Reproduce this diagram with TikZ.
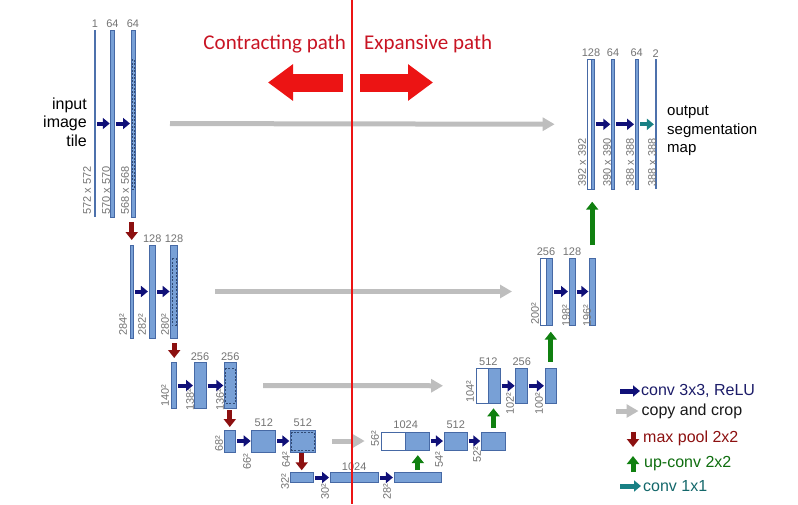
\documentclass[tikz,border=0pt]{standalone}
\usepackage{fontspec}
\setmainfont{Liberation Sans}
\newfontfamily\calibri{Carlito}
\usetikzlibrary{arrows.meta,calc}

\definecolor{fmapfill}{RGB}{120,160,214}
\definecolor{fmapline}{RGB}{70,105,165}
\definecolor{convblue}{RGB}{16,16,120}
\definecolor{copygray}{RGB}{190,190,190}
\definecolor{poolred}{RGB}{140,16,16}
\definecolor{upgreen}{RGB}{16,128,16}
\definecolor{convteal}{RGB}{24,128,132}
\definecolor{labgray}{RGB}{115,115,115}
\definecolor{splitred}{RGB}{236,20,20}
\definecolor{pathred}{RGB}{200,20,35}
\definecolor{convtxt}{RGB}{28,28,105}

\begin{document}
\begin{tikzpicture}[x=1pt, y=-1pt,
    fmap/.style={draw=fmapline, fill=fmapfill, line width=0.7pt, inner sep=0pt, outer sep=0pt},
    cmap/.style={fmap, fill=white},
    thinmap/.style={fill=fmapline!85!fmapfill, inner sep=0pt, outer sep=0pt, minimum width=1.6pt},
    cropbox/.style={draw=fmapline!70!black, line width=0.6pt, dash pattern=on 2pt off 1.5pt},
    chan/.style={font=\fontsize{11}{13}\selectfont, text=labgray, inner sep=0pt},
    dimlab/.style={font=\fontsize{11}{13}\selectfont, text=labgray, inner sep=0pt, rotate=90, anchor=west},
    conv/.style={draw=convblue, line width=4pt, -{Triangle[length=7pt,width=11pt]}, shorten <=1.5pt, shorten >=1pt},
    onebyone/.style={conv, draw=convteal},
    copyarr/.style={draw=copygray, line width=5pt, -{Triangle[length=12pt,width=13pt]}},
    poolarr/.style={draw=poolred, line width=5pt, -{Triangle[length=8pt,width=12pt]}, shorten <=2pt, shorten >=3pt},
    uparr/.style={draw=upgreen, line width=5pt, -{Triangle[length=8pt,width=12pt]}},
    bigarrow/.style={draw=splitred, line width=18pt, -{Triangle[length=25pt,width=35pt]}},
    sidetxt/.style={font=\fontsize{16}{18.5}\selectfont, inner sep=0pt},
    lgtext/.style={font=\fontsize{16}{18}\selectfont, inner sep=1pt, anchor=west},
    pathtxt/.style={font=\calibri\fontsize{21}{24}\selectfont, text=pathred, inner sep=0pt}
]
    \useasboundingbox (0,0) rectangle (798,504);

    % contracting path
    \node[thinmap, minimum height=187pt] (l1a) at (95,123.5) {};
    \node[fmap, minimum width=3.5pt, minimum height=187pt] (l1b) at (112.5,123.5) {};
    \node[fmap, minimum width=4pt, minimum height=187pt] (l1c) at (133,123.5) {};

    \node[fmap, minimum width=3.3pt, minimum height=93pt] (l2a) at (131.7,291.5) {};
    \node[fmap, minimum width=6.7pt, minimum height=93pt] (l2b) at (152.3,291.5) {};
    \node[fmap, minimum width=6.7pt, minimum height=93pt] (l2c) at (174,291.5) {};

    \node[fmap, minimum width=5pt, minimum height=45.6pt] (l3a) at (174.2,385.5) {};
    \node[fmap, minimum width=12pt, minimum height=45.6pt] (l3b) at (200,385.5) {};
    \node[fmap, minimum width=11.7pt, minimum height=45.6pt] (l3c) at (230.2,385.5) {};

    \node[fmap, minimum width=11.7pt, minimum height=22pt] (l4a) at (229.8,441) {};
    \node[fmap, minimum width=24pt, minimum height=22pt] (l4b) at (263.7,441) {};
    \node[fmap, minimum width=24.7pt, minimum height=22pt] (l4c) at (302.7,441) {};

    \node[fmap, minimum width=23.3pt, minimum height=10.4pt] (l5a) at (301.7,477.5) {};
    \node[fmap, minimum width=48.3pt, minimum height=10.4pt] (l5b) at (354.2,477.5) {};
    \node[fmap, minimum width=47.7pt, minimum height=10.4pt] (l5c) at (417.8,477.5) {};

    % expansive path
    \node[cmap, minimum width=24pt, minimum height=18.3pt] (u4w) at (393.7,441) {};
    \node[fmap, minimum width=23.6pt, minimum height=18.3pt] (u4a) at (417.5,441) {};
    \node[fmap, minimum width=23.7pt, minimum height=18.3pt] (u4b) at (455.8,441) {};
    \node[fmap, minimum width=24.4pt, minimum height=18.3pt] (u4c) at (493.5,441) {};

    \node[cmap, minimum width=12.3pt, minimum height=35pt] (u3w) at (482.2,385.8) {};
    \node[fmap, minimum width=11.7pt, minimum height=35pt] (u3a) at (494.2,385.8) {};
    \node[fmap, minimum width=12pt, minimum height=35pt] (u3b) at (521.7,385.8) {};
    \node[fmap, minimum width=11.7pt, minimum height=35pt] (u3c) at (550.8,385.8) {};

    \node[cmap, minimum width=6pt, minimum height=67pt] (u2w) at (543,291.5) {};
    \node[fmap, minimum width=6.7pt, minimum height=67pt] (u2a) at (549.35,291.5) {};
    \node[fmap, minimum width=6pt, minimum height=67pt] (u2b) at (572,291.5) {};
    \node[fmap, minimum width=5.7pt, minimum height=67pt] (u2c) at (592.2,291.5) {};

    \node[cmap, minimum width=3.3pt, minimum height=130pt] (u1w) at (589.3,124.3) {};
    \node[fmap, minimum width=3.4pt, minimum height=130pt] (u1a) at (592.65,124.3) {};
    \node[fmap, minimum width=3.4pt, minimum height=130pt] (u1b) at (613,124.3) {};
    \node[fmap, minimum width=3.3pt, minimum height=130pt] (u1c) at (636.7,124.3) {};
    \node[thinmap, minimum height=130pt] (u1d) at (655.7,124.3) {};

    % cropped parts
    \draw[cropbox] ($(l1c.west |- u1w.north)+(1.2,0)$) rectangle ($(l1c.east |- u1w.south)+(-1.2,0)$);
    \draw[cropbox] ($(l2c.west |- u2w.north)+(1.2,0)$) rectangle ($(l2c.east |- u2w.south)+(-1.2,0)$);
    \draw[cropbox] ($(l3c.west |- u3w.north)+(1.2,0)$) rectangle ($(l3c.east |- u3w.south)+(-1.2,0)$);
    \draw[cropbox] ($(l4c.west |- u4w.north)+(1.2,0)$) rectangle ($(l4c.east |- u4w.south)+(-1.2,0)$);

    % channels
    \node[chan, above=2pt] at (l1a.north) {1};
    \node[chan, above=2pt] at (l1b.north) {64};
    \node[chan, above=2pt] at (l1c.north) {64};
    \node[chan, above=2pt] at (l2b.north) {128};
    \node[chan, above=2pt] at (l2c.north) {128};
    \node[chan, above=2pt] at (l3b.north) {256};
    \node[chan, above=2pt] at (l3c.north) {256};
    \node[chan, above=3pt] at (l4b.north) {512};
    \node[chan, above=3pt] at (l4c.north) {512};
    \node[chan, above=2pt] at (l5b.north) {1024};
    \node[chan, above=3pt] at (u4w.north east) {1024};
    \node[chan, above=3pt] at (u4b.north) {512};
    \node[chan, above=2pt] at (u3w.north east) {512};
    \node[chan, above=2pt] at (u3b.north) {256};
    \node[chan, above=2pt] at (u2w.north east) {256};
    \node[chan, above=2pt] at (u2b.north) {128};
    \node[chan, above=2pt] at (u1w.north east) {128};
    \node[chan, above=2pt] at (u1b.north) {64};
    \node[chan, above=2pt] at (u1c.north) {64};
    \node[chan, above=2pt] at (u1d.north) {2};

    % sizes
    \node[dimlab] at (87,215) {572 x 572};
    \node[dimlab] at (106,215) {570 x 570};
    \node[dimlab] at (125,215) {568 x 568};
    \node[dimlab] at (123,336) {284²};
    \node[dimlab] at (142,336) {282²};
    \node[dimlab] at (165,336) {280²};
    \node[dimlab] at (165,407) {140²};
    \node[dimlab] at (190,411) {138²};
    \node[dimlab] at (220,411) {136²};
    \node[dimlab] at (219,452) {68²};
    \node[dimlab] at (247,470) {66²};
    \node[dimlab] at (286,468) {64²};
    \node[dimlab] at (285,490) {32²};
    \node[dimlab] at (325,500) {30²};
    \node[dimlab] at (387,500) {28²};
    \node[dimlab] at (375,447) {56²};
    \node[dimlab] at (439,468) {54²};
    \node[dimlab] at (477,463) {52²};
    \node[dimlab] at (470,403) {104²};
    \node[dimlab] at (510,415) {102²};
    \node[dimlab] at (539,415) {100²};
    \node[dimlab] at (535,325) {200²};
    \node[dimlab] at (566,327) {198²};
    \node[dimlab] at (587,327) {196²};
    \node[dimlab] at (582,187) {392 x 392};
    \node[dimlab] at (607,187) {390 x 390};
    \node[dimlab] at (630,187) {388 x 388};
    \node[dimlab] at (652,187) {388 x 388};

    % conv 3x3
    \draw[conv] (l1a.east) -- (l1b.west);
    \draw[conv] (l1b.east) -- (l1c.west);
    \draw[conv] (l2a.east) -- (l2b.west);
    \draw[conv] (l2b.east) -- (l2c.west);
    \draw[conv] (l3a.east) -- (l3b.west);
    \draw[conv] (l3b.east) -- (l3c.west);
    \draw[conv] (l4a.east) -- (l4b.west);
    \draw[conv] (l4b.east) -- (l4c.west);
    \draw[conv] (l5a.east) -- (l5b.west);
    \draw[conv] (l5b.east) -- (l5c.west);
    \draw[conv] (u4a.east) -- (u4b.west);
    \draw[conv] (u4b.east) -- (u4c.west);
    \draw[conv] (u3a.east) -- (u3b.west);
    \draw[conv] (u3b.east) -- (u3c.west);
    \draw[conv] (u2a.east) -- (u2b.west);
    \draw[conv] (u2b.east) -- (u2c.west);
    \draw[conv] (u1a.east) -- (u1b.west);
    \draw[conv] (u1b.east) -- (u1c.west);
    \draw[onebyone] (u1c.east) -- (u1d.west);

    % copy and crop
    \draw[copyarr, shorten <=35pt, shorten >=33pt] (l1c.east) -- (u1w.west);
    \draw[copyarr, shorten <=38pt, shorten >=28pt] (l2c.east) -- (u2w.west);
    \draw[copyarr, shorten <=27pt, shorten >=33pt] (l3c.east) -- (u3w.west);
    \draw[copyarr, shorten <=17pt, shorten >=17pt] (l4c.east) -- (u4w.west);

    % max pool
    \draw[poolarr, shorten <=5pt, shorten >=5pt] (l2a.north |- l1c.south) -- (l2a.north);
    \draw[poolarr, shorten <=5pt, shorten >=4.7pt] (l3a.north |- l2c.south) -- (l3a.north);
    \draw[poolarr] (l4a.north |- l3c.south) -- (l4a.north);
    \draw[poolarr, shorten <=1pt, shorten >=2pt] (l5a.north |- l4c.south) -- (l5a.north);

    % up-conv
    \draw[uparr, shorten <=2.3pt, shorten >=5pt] (l5c.north) -- (l5c.north |- u4a.south);
    \draw[uparr, shorten <=3.8pt, shorten >=5pt] (u4c.north) -- (u4c.north |- u3a.south);
    \draw[uparr, shorten <=6.6pt, shorten >=6.7pt] (u3c.north) -- (u3c.north |- u2a.south);
    \draw[uparr, shorten <=13pt, shorten >=12.4pt] (u2c.north) -- (u2c.north |- u1a.south);

    % side texts
    \node[sidetxt, align=right, anchor=east] (intile) at (87,122) {input\\image\\tile};
    \node[sidetxt, font=\fontsize{15}{18.5}\selectfont, align=left, anchor=west] (outmap) at (667,131) {output\\segmentation\\map};

    % legend
    \node[lgtext, text=convtxt] (lgconv) at (640,391) {conv 3x3, ReLU};
    \node[lgtext, text=black!90] (lgcopy) at (640.5,411) {copy and crop};
    \node[lgtext, text=poolred] (lgpool) at (642,438.5) {max pool 2x2};
    \node[lgtext, text=upgreen!85!black] (lgup) at (643,463.5) {up-conv 2x2};
    \node[lgtext, text=convteal!80!black] (lgone) at (642,486) {conv 1x1};
    \coordinate (lgconvs) at (620,391);
    \coordinate (lgcopys) at (616,411);
    \coordinate (lgones) at (620,486);
    \draw[conv, line width=5pt, shorten <=0pt, shorten >=0pt] (lgconvs) -- (lgconv.west);
    \draw[copyarr, shorten >=2pt] (lgcopys) -- (lgcopy.west);
    \draw[onebyone, line width=5pt, shorten <=0pt, shorten >=1pt] (lgones) -- (lgone.west);
    \draw[poolarr, shorten <=0pt, shorten >=0pt] ([shift={(-9,-7)}]lgpool.west) -- ([shift={(-9,8.5)}]lgpool.west);
    \draw[uparr] ([shift={(-10,8.5)}]lgup.west) -- ([shift={(-10,-7.5)}]lgup.west);

    % paths
    \node[pathtxt, anchor=east] (contr) at (346,44) {Contracting path};
    \node[pathtxt, anchor=west] (expan) at (364,44) {Expansive path};
    \draw[bigarrow] (343,82.5) -- (268,82.5);
    \draw[bigarrow] (360,82.5) -- (433,82.5);
    \draw[splitred, line width=2.5pt] (352,0) -- (352,504);
\end{tikzpicture}
\end{document}
